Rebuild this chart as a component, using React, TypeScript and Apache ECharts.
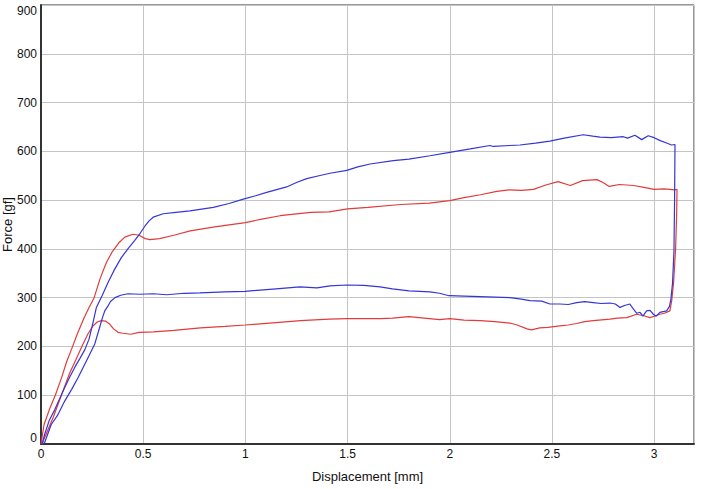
import React, { useEffect, useRef } from "react";
import * as echarts from "echarts";

// Red specimen: loading branch + upper plateau
const redUpper: number[][] = [
  [0, 0], [0.015, 40], [0.045, 75], [0.07, 100], [0.1, 135], [0.125, 168], [0.15, 195], [0.18, 228],
  [0.21, 258], [0.235, 280], [0.26, 300], [0.29, 340], [0.32, 372], [0.35, 395], [0.38, 412], [0.41, 424],
  [0.45, 430], [0.48, 428], [0.51, 421], [0.533, 419], [0.58, 421], [0.65, 428], [0.73, 437], [0.85, 445],
  [1.0, 454], [1.08, 461], [1.17, 468], [1.32, 475], [1.41, 476], [1.5, 482], [1.6, 485], [1.76, 491],
  [1.9, 494], [2.0, 499], [2.07, 505], [2.15, 511], [2.23, 518], [2.29, 521], [2.35, 520], [2.41, 522],
  [2.47, 531], [2.53, 538], [2.59, 530], [2.65, 540], [2.72, 542], [2.75, 536], [2.78, 528], [2.83, 532],
  [2.9, 530], [2.95, 526], [3.0, 522], [3.05, 523], [3.1, 521], [3.112, 522],
];
// Red specimen: unloading drop + lower return branch
const redLower: number[][] = [
  [3.11, 470], [3.105, 400], [3.095, 330], [3.086, 294], [3.077, 273], [3.05, 268], [3.028, 266], [3.0, 262],
  [2.979, 259], [2.95, 263], [2.914, 266], [2.866, 259], [2.82, 258], [2.784, 256], [2.702, 253], [2.66, 251],
  [2.621, 247], [2.58, 244], [2.539, 242], [2.48, 239], [2.44, 238], [2.4, 234], [2.378, 236], [2.33, 244],
  [2.294, 248], [2.22, 251], [2.148, 253], [2.07, 254], [2.0, 257], [1.95, 255], [1.9, 257], [1.8, 261],
  [1.72, 258], [1.66, 257], [1.5, 257], [1.41, 256], [1.27, 253], [1.15, 249], [1.0, 244], [0.9, 241],
  [0.78, 238], [0.65, 233], [0.55, 230], [0.48, 229], [0.44, 225], [0.4, 227], [0.377, 229], [0.355, 236],
  [0.336, 246], [0.315, 252], [0.295, 253], [0.275, 250], [0.254, 242], [0.23, 226], [0.2, 200], [0.17, 172],
  [0.14, 145], [0.1, 100], [0.06, 55], [0.03, 25], [0.01, 5], [0.005, 0],
];
// Blue specimen: loading branch + upper plateau
const blueUpper: number[][] = [
  [0.005, 0], [0.018, 20], [0.04, 48], [0.067, 70], [0.09, 92], [0.116, 116], [0.14, 137], [0.165, 157],
  [0.19, 175], [0.214, 193], [0.235, 215], [0.255, 250], [0.271, 280], [0.3, 305], [0.328, 331], [0.36, 358],
  [0.393, 382], [0.425, 400], [0.458, 417], [0.485, 432], [0.509, 447], [0.53, 458], [0.549, 465], [0.598, 472],
  [0.66, 475], [0.729, 478], [0.843, 485], [0.92, 493], [0.99, 502], [1.05, 509], [1.104, 516], [1.202, 527],
  [1.25, 536], [1.3, 544], [1.36, 550], [1.414, 555], [1.496, 561], [1.55, 568], [1.61, 574], [1.724, 581],
  [1.8, 584], [1.903, 591], [2.0, 598], [2.1, 605], [2.197, 612], [2.213, 610], [2.294, 612], [2.343, 613],
  [2.42, 617], [2.49, 621], [2.56, 627], [2.653, 634], [2.7, 631], [2.735, 629], [2.79, 628], [2.849, 630],
  [2.87, 627], [2.906, 633], [2.939, 624], [2.971, 632], [3.0, 628], [3.03, 622], [3.061, 617], [3.085, 613],
  [3.102, 614],
];
// Blue specimen: unloading drop + lower return branch
const blueLower: number[][] = [
  [3.1, 500], [3.097, 396], [3.09, 330], [3.082, 297], [3.075, 282], [3.061, 273], [3.028, 270], [3.01, 262],
  [2.996, 266], [2.98, 274], [2.963, 273], [2.945, 262], [2.931, 270], [2.915, 268], [2.898, 277], [2.881, 287],
  [2.855, 284], [2.833, 280], [2.81, 287], [2.784, 289], [2.74, 288], [2.702, 290], [2.66, 292], [2.621, 290],
  [2.58, 286], [2.539, 287], [2.49, 287], [2.45, 293], [2.392, 294], [2.35, 297], [2.294, 300], [2.22, 301],
  [2.148, 302], [2.07, 303], [1.996, 304], [1.95, 309], [1.903, 312], [1.8, 314], [1.72, 318], [1.659, 322],
  [1.58, 325], [1.497, 326], [1.414, 324], [1.35, 320], [1.267, 322], [1.15, 318], [0.998, 313], [0.9, 312],
  [0.778, 310], [0.7, 309], [0.615, 306], [0.55, 308], [0.484, 307], [0.426, 308], [0.39, 305], [0.362, 300],
  [0.34, 292], [0.328, 283], [0.312, 273], [0.3, 258], [0.289, 242], [0.263, 205], [0.23, 177], [0.181, 136],
  [0.15, 112], [0.116, 88], [0.08, 58], [0.05, 40], [0.018, 3], [0.01, 0],
];

const xAxisName = "Displacement [mm]";
const yAxisName = "Force [gf]";

export default function App() {
  const ref = useRef<HTMLDivElement>(null);
  useEffect(() => {
    if (!ref.current) return;
    const chart = echarts.init(ref.current, undefined, { renderer: "svg" });
    const font = "'Liberation Sans', Arial, sans-serif";
    chart.setOption({
      animation: false,
      backgroundColor: "#ffffff",
      grid: {
        left: 41, right: 8, top: 5, bottom: 45,
        containLabel: false, outerBoundsMode: "none",
        show: true, borderColor: "#333", borderWidth: 1,
      },
      xAxis: {
        type: "value",
        min: 0, max: 3.195, interval: 0.5,
        name: xAxisName, nameLocation: "middle", nameGap: 26, nameMoveOverlap: false,
        nameTextStyle: { fontFamily: font, fontSize: 13, color: "#111" },
        axisLine: { show: true, lineStyle: { color: "#333", width: 2 } },
        axisTick: { show: false },
        axisLabel: {
          fontFamily: font, fontSize: 12, color: "#111", margin: 4,
          formatter: (v: number) => (Math.abs(v * 2 - Math.round(v * 2)) < 1e-6 ? String(v) : ""),
        },
        splitLine: { show: true, lineStyle: { color: "#c4c4c4", width: 1 } },
      },
      yAxis: {
        type: "value",
        min: 0, max: 900, interval: 100,
        name: yAxisName, nameLocation: "middle", nameGap: 27, nameMoveOverlap: false,
        nameTextStyle: { fontFamily: font, fontSize: 13, color: "#111" },
        axisLine: { show: true, lineStyle: { color: "#333", width: 2 } },
        axisTick: { show: false },
        axisLabel: {
          fontFamily: font, fontSize: 12, color: "#111", margin: 4,
          verticalAlignMinLabel: "bottom", verticalAlignMaxLabel: "top",
        },
        splitLine: { show: true, lineStyle: { color: "#c4c4c4", width: 1 } },
      },
      series: [
        {
          type: "line", data: redUpper.concat(redLower), showSymbol: false, symbol: "none",
          lineStyle: { color: "#e23b3b", width: 1.2 }, z: 2,
        },
        {
          type: "line", data: blueUpper.concat(blueLower), showSymbol: false, symbol: "none",
          lineStyle: { color: "#3535d6", width: 1.2 }, z: 3,
        },
      ],
    });
    return () => chart.dispose();
  }, []);
  return (
    <div
      ref={ref}
      style={{ position: "absolute", left: 0, top: 0, width: 702, height: 489, background: "#fff" }}
    />
  );
}
